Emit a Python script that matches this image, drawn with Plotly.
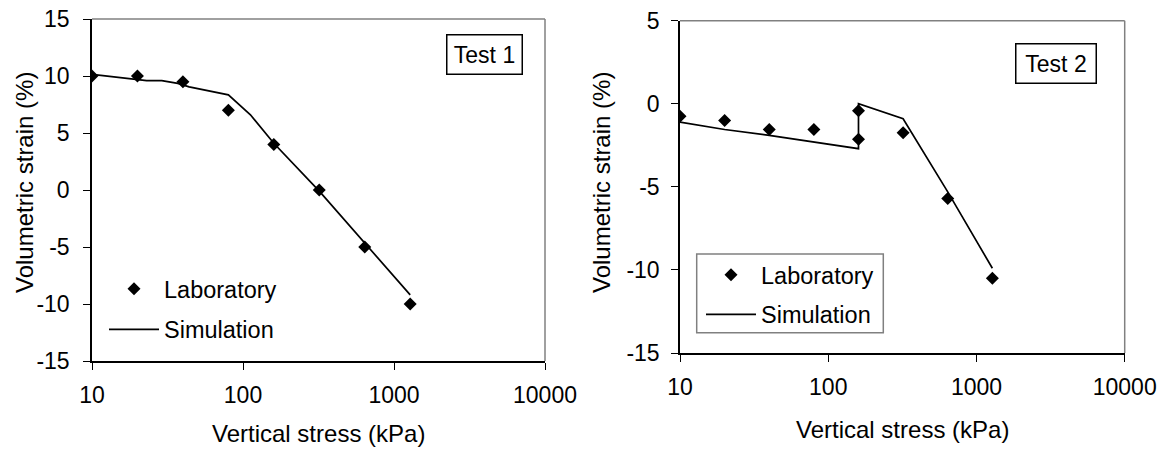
import plotly.graph_objects as go

# ---- Data ----
lab1_x = [10, 20, 40, 80, 160, 320, 640, 1280]
lab1_y = [10, 10, 9.5, 7, 4, 0, -5, -10]
sim1_x = [10, 18, 23, 29, 37, 44, 69, 80, 112, 160, 320, 640, 1280]
sim1_y = [10.15, 9.75, 9.6, 9.6, 9.35, 9.05, 8.5, 8.35, 6.6, 4.1, -0.1, -4.6, -9.2]

lab2_x = [10, 20, 40, 80, 160, 160, 320, 640, 1280]
lab2_y = [-0.75, -1.0, -1.55, -1.55, -0.42, -2.14, -1.75, -5.7, -10.5]
sim2_x = [10, 20, 40, 80, 160, 160, 320, 640, 1280]
sim2_y = [-1.1, -1.55, -1.9, -2.3, -2.7, 0.0, -0.9, -5.3, -9.9]

x_tickvals = [10, 100, 1000, 10000]
x_ticktext = ["10", "100", "1000", "10000"]
y1_tickvals = [-15, -10, -5, 0, 5, 10, 15]
y1_ticktext = ["-15", "-10", "-5", "0", "5", "10", "15"]
y2_tickvals = [-15, -10, -5, 0, 5]
y2_ticktext = ["-15", "-10", "-5", "0", "5"]

FONT = "Liberation Sans, Arial, sans-serif"
W, H = 1168, 450

fig = go.Figure()

fig.add_trace(go.Scatter(x=lab1_x, y=lab1_y, mode="markers", name="Laboratory",
                         marker=dict(symbol="diamond", size=10, color="black"),
                         xaxis="x", yaxis="y", legend="legend", legendgroup="a1"))
fig.add_trace(go.Scatter(x=sim1_x, y=sim1_y, mode="lines", name="Simulation",
                         line=dict(color="black", width=1.7),
                         xaxis="x", yaxis="y", legend="legend", legendgroup="b1"))
fig.add_trace(go.Scatter(x=lab2_x, y=lab2_y, mode="markers", name="Laboratory",
                         marker=dict(symbol="diamond", size=10, color="black"),
                         xaxis="x2", yaxis="y2", legend="legend2", legendgroup="a2"))
fig.add_trace(go.Scatter(x=sim2_x, y=sim2_y, mode="lines", name="Simulation",
                         line=dict(color="black", width=1.7),
                         xaxis="x2", yaxis="y2", legend="legend2", legendgroup="b2"))

# plot area pixel geometry
L1 = (92, 545, 19, 361)
L2 = (680, 1124.7, 20.7, 353)

def dom(l):
    x0, x1, yt, yb = l
    return [x0 / W, x1 / W], [1 - yb / H, 1 - yt / H]

xd1, yd1 = dom(L1)
xd2, yd2 = dom(L2)

axis_common = dict(showgrid=False, zeroline=False, showline=True, linecolor="black",
                   linewidth=1.5, ticks="outside", ticklen=7, tickwidth=1.2,
                   tickcolor="black", mirror=False, automargin=False,
                   tickfont=dict(family=FONT, size=23, color="black"))

fig.update_layout(
    template="none",
    width=W, height=H, margin=dict(l=0, r=0, t=0, b=0, pad=0, autoexpand=False),
    paper_bgcolor="white", plot_bgcolor="white",
    font=dict(family=FONT, size=23, color="black"),
    xaxis=dict(domain=xd1, anchor="y", type="log", range=[1, 4],
               tickvals=x_tickvals, ticktext=x_ticktext, ticklabelstandoff=6, **axis_common),
    yaxis=dict(domain=yd1, anchor="x", range=[-15, 15], tickvals=y1_tickvals,
               ticktext=y1_ticktext, ticklabelstandoff=9, **axis_common),
    xaxis2=dict(domain=xd2, anchor="y2", type="log", range=[1, 4],
                tickvals=x_tickvals, ticktext=x_ticktext, ticklabelstandoff=6, **axis_common),
    yaxis2=dict(domain=yd2, anchor="x2", range=[-15, 5], tickvals=y2_tickvals,
                ticktext=y2_ticktext, ticklabelstandoff=7, **axis_common),
    legend=dict(x=104 / W, y=1 - 267 / H, xanchor="left", yanchor="top",
                bgcolor="rgba(0,0,0,0)", borderwidth=0, itemwidth=50,
                traceorder="grouped", tracegroupgap=7,
                font=dict(family=FONT, size=23.5, color="black")),
    legend2=dict(x=701 / W, y=1 - 253 / H, xanchor="left", yanchor="top",
                 bgcolor="rgba(0,0,0,0)", borderwidth=0, itemwidth=50,
                 traceorder="grouped", tracegroupgap=6,
                 font=dict(family=FONT, size=23.5, color="black")),
)

shapes = []
for xr, yr in (("x domain", "y domain"), ("x2 domain", "y2 domain")):
    shapes.append(dict(type="line", xref=xr, yref=yr, x0=0, x1=1, y0=1, y1=1,
                       line=dict(color="#808080", width=1.5)))
    shapes.append(dict(type="line", xref=xr, yref=yr, x0=1, x1=1, y0=0, y1=1,
                       line=dict(color="#808080", width=1.5)))
# legend frame on right chart
shapes.append(dict(type="rect", xref="paper", yref="paper",
                   x0=696.7 / W, x1=883.3 / W, y0=1 - 332.7 / H, y1=1 - 254 / H,
                   line=dict(color="#808080", width=1.5), fillcolor="rgba(0,0,0,0)"))
fig.update_layout(shapes=shapes)

ann = []
# axis titles
ann.append(dict(text="Vertical stress (kPa)", xref="paper", yref="paper",
                x=(L1[0] + L1[1]) / 2 / W, y=1 - 433 / H, showarrow=False,
                xanchor="center", yanchor="middle", font=dict(size=24)))
ann.append(dict(text="Vertical stress (kPa)", xref="paper", yref="paper",
                x=(L2[0] + L2[1]) / 2 / W, y=1 - 429 / H, showarrow=False,
                xanchor="center", yanchor="middle", font=dict(size=24)))
ann.append(dict(text="Volumetric strain (%)", xref="paper", yref="paper",
                x=24 / W, y=1 - 183 / H, showarrow=False, textangle=-90,
                xanchor="center", yanchor="middle", font=dict(size=24)))
ann.append(dict(text="Volumetric strain (%)", xref="paper", yref="paper",
                x=601 / W, y=1 - 183 / H, showarrow=False, textangle=-90,
                xanchor="center", yanchor="middle", font=dict(size=24)))
# test labels
ann.append(dict(text="Test 1", xref="paper", yref="paper", x=484 / W, y=1 - 54 / H,
                showarrow=False, xanchor="center", yanchor="middle",
                bordercolor="black", borderwidth=1.5, borderpad=2, bgcolor="white",
                width=70, height=34, font=dict(size=23)))
ann.append(dict(text="Test 2", xref="paper", yref="paper", x=1055.8 / W, y=1 - 63.3 / H,
                showarrow=False, xanchor="center", yanchor="middle",
                bordercolor="black", borderwidth=1.5, borderpad=2, bgcolor="white",
                width=75, height=34, font=dict(size=23)))
fig.update_layout(annotations=ann)

fig.write_html("out.html")
